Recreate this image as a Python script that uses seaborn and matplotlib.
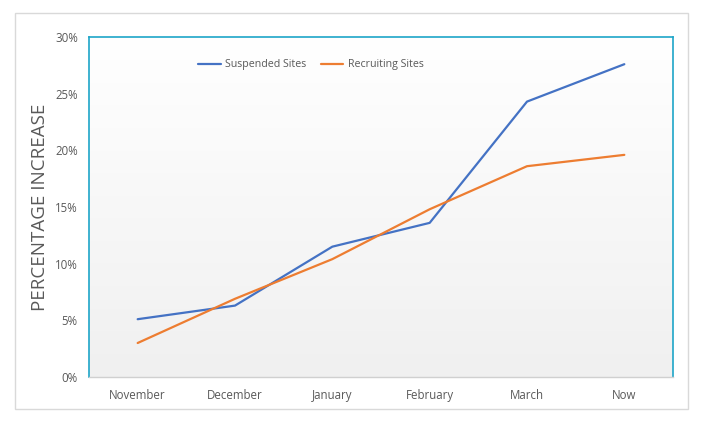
import numpy as np
import pandas as pd
import matplotlib
matplotlib.use('Agg')
import matplotlib.pyplot as plt
from matplotlib.patches import Rectangle
import seaborn as sns

# data (percent)
months = ['November', 'December', 'January', 'February', 'March', 'Now']
suspended = [5.1, 6.3, 11.5, 13.6, 24.3, 27.6]
recruiting = [3.0, 6.9, 10.4, 14.8, 18.6, 19.6]
series_names = ['Suspended Sites', 'Recruiting Sites']
series_colors = ['#4472C4', '#ED7D31']
y_ticks = [0, 5, 10, 15, 20, 25, 30]

df = pd.DataFrame({
    'month': months * 2,
    'value': suspended + recruiting,
    'series': [series_names[0]] * len(months) + [series_names[1]] * len(months),
})

sns.set_theme(style='white')
plt.rcParams['font.family'] = ['Open Sans', 'DejaVu Sans']

text_grey = '#595959'

fig = plt.figure(figsize=(7.06, 4.22), dpi=100)
ax = fig.add_axes([89 / 706, 45 / 422, 584 / 706, 340 / 422])

# outer chart border
fig.patches.append(Rectangle((15 / 706, 13 / 422), 673 / 706, 396 / 422,
                             transform=fig.transFigure, fill=False,
                             edgecolor='#d9d9d9', linewidth=1.0))

# gradient background of the plot area
grad = np.linspace(1.0, 0.0, 256).reshape(-1, 1)
ax.imshow(grad, extent=[0, 1, 0, 1], transform=ax.transAxes, aspect='auto',
          cmap=matplotlib.colors.LinearSegmentedColormap.from_list('bg', ['#f0f0f0', '#ffffff']),
          zorder=0)

sns.lineplot(data=df, x='month', y='value', hue='series', hue_order=series_names,
             palette=series_colors, linewidth=1.6, sort=False, ax=ax, zorder=3)

ax.set_xlim(-0.5, len(months) - 0.5)
ax.set_ylim(0, 30)
ax.set_yticks(y_ticks)
ax.set_yticklabels([f'{t}%' for t in y_ticks])
ax.set_xlabel('')
ax.set_ylabel('PERCENTAGE INCREASE', fontsize=13.5, color=text_grey, labelpad=4)
ax.tick_params(axis='y', length=0, pad=8, labelsize=8.3, labelcolor=text_grey)
ax.tick_params(axis='x', length=0, pad=8.5, labelsize=8.3, labelcolor=text_grey)

for side in ['left', 'top', 'right']:
    ax.spines[side].set_color('#1ea5c8')
    ax.spines[side].set_linewidth(1.2)
ax.spines['bottom'].set_color('#d0d0d0')
ax.spines['bottom'].set_linewidth(1.0)

leg = ax.legend(loc='center left', bbox_to_anchor=(0.187, 0.918), ncol=2,
                frameon=False, fontsize=7.7, handlelength=2.1, handletextpad=0.45,
                columnspacing=1.3, borderpad=0, borderaxespad=0)
for t in leg.get_texts():
    t.set_color(text_grey)

fig.savefig('out.png', dpi=100)
